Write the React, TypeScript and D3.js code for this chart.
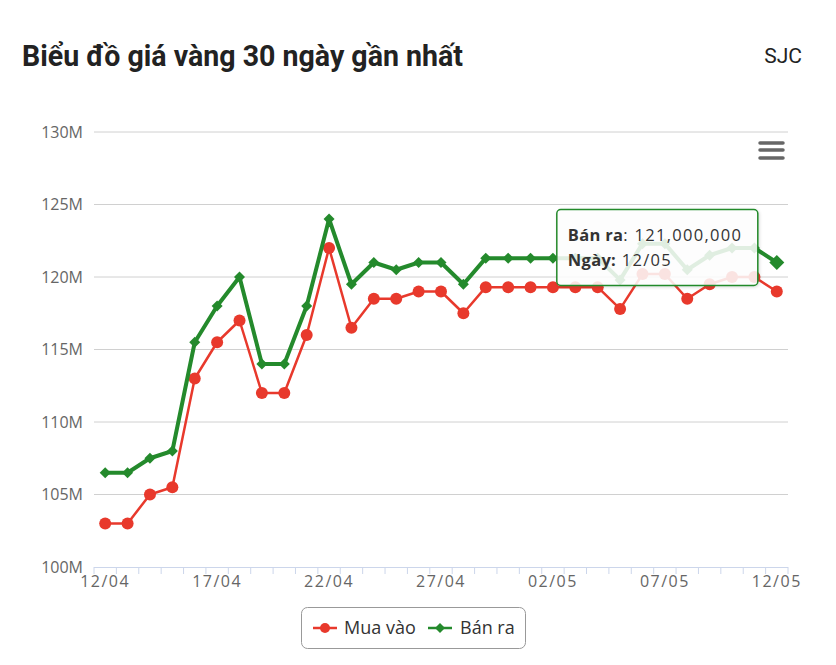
import React from 'react';
import * as d3 from 'd3';

const days = [
  '12/04', '13/04', '14/04', '15/04', '16/04', '17/04', '18/04', '19/04', '20/04', '21/04',
  '22/04', '23/04', '24/04', '25/04', '26/04', '27/04', '28/04', '29/04', '30/04', '01/05',
  '02/05', '03/05', '04/05', '05/05', '06/05', '07/05', '08/05', '09/05', '10/05', '11/05', '12/05',
];

// giá mua vào (triệu đồng)
const muaVao = [
  103, 103, 105, 105.5, 113, 115.5, 117, 112, 112, 116,
  122, 116.5, 118.5, 118.5, 119, 119, 117.5, 119.3, 119.3, 119.3,
  119.3, 119.3, 119.3, 117.8, 120.2, 120.2, 118.5, 119.5, 120, 120, 119,
];

// giá bán ra (triệu đồng)
const banRa = [
  106.5, 106.5, 107.5, 108, 115.5, 118, 120, 114, 114, 118,
  124, 119.5, 121, 120.5, 121, 121, 119.5, 121.3, 121.3, 121.3,
  121.3, 121.3, 121.3, 119.8, 122.3, 122.3, 120.5, 121.5, 122, 122, 121,
];

const yTicks = [100, 105, 110, 115, 120, 125, 130];
const xLabelEvery = 5;
const hoverIndex = 30;

const RED = '#e8392c';
const GREEN = '#248a2c';
const AXIS_FONT = '"Open Sans", sans-serif';

export default function App() {
  const left = 94;
  const right = 788;
  const top = 132;
  const bottom = 567;

  const x = d3.scaleBand<string>().domain(days).range([left, right]).padding(0);
  const cx = (d: string) => (x(d) as number) + x.bandwidth() / 2;
  const y = d3.scaleLinear().domain([100, 130]).range([bottom, top]);

  const line = d3
    .line<number>()
    .x((_, i) => cx(days[i]))
    .y((v) => y(v));

  const diamond = (px: number, py: number, r: number) =>
    `M${px},${py - r}L${px + r},${py}L${px},${py + r}L${px - r},${py}Z`;

  const boundaries = days.map((d) => x(d) as number).concat([right]);

  const hx = cx(days[hoverIndex]);
  const hy = y(banRa[hoverIndex]);
  const tipW = 201;
  const tipH = 76;
  const tipX = hx - 19 - tipW;
  const tipY = hy - 53;

  const fmt = d3.format(',');

  return (
    <div style={{ position: 'absolute', left: 0, top: 0 }}>
      <svg width={836} height={665} style={{ display: 'block', background: '#fff' }}>
        <defs>
          <filter id="tipShadow" x="-10%" y="-10%" width="130%" height="140%">
            <feDropShadow dx="1" dy="1" stdDeviation="1.5" floodColor="#000" floodOpacity="0.15" />
          </filter>
        </defs>

        {/* title */}
        <text
          x={22}
          y={66}
          fontFamily="Roboto, sans-serif"
          fontWeight={700}
          fontSize={29}
          fill="#222"
          textLength={441}
          lengthAdjust="spacingAndGlyphs"
        >
          Biểu đồ giá vàng 30 ngày gần nhất
        </text>
        <text x={802} y={63} textAnchor="end" fontFamily="Roboto, sans-serif" fontSize={21} fill="#222">
          SJC
        </text>

        {/* grid + y labels */}
        {yTicks.map((t) => (
          <g key={t}>
            {t !== 100 && (
              <line x1={left} x2={right} y1={y(t)} y2={y(t)} stroke="#d0d0d0" strokeWidth={1} />
            )}
            <text
              x={83}
              y={y(t) + 5.5}
              textAnchor="end"
              fontFamily={AXIS_FONT}
              fontSize={16}
              fill="#666"
            >
              {t}M
            </text>
          </g>
        ))}

        {/* x axis */}
        <line x1={left} x2={right} y1={bottom + 0.5} y2={bottom + 0.5} stroke="#ccd6eb" strokeWidth={1} />
        {boundaries.map((b, i) => (
          <line key={i} x1={b} x2={b} y1={bottom} y2={bottom + 7} stroke="#ccd6eb" strokeWidth={1} />
        ))}
        {days.map((d, i) =>
          i % xLabelEvery === 0 ? (
            <text
              key={d}
              x={cx(d)}
              y={bottom + 20}
              textAnchor="middle"
              fontFamily={AXIS_FONT}
              fontSize={16}
              letterSpacing={1.5}
              fill="#666"
            >
              {d}
            </text>
          ) : null
        )}

        {/* menu icon */}
        {[143, 150, 158].map((yy) => (
          <line key={yy} x1={760} x2={783} y1={yy} y2={yy} stroke="#666" strokeWidth={3.5} strokeLinecap="round" />
        ))}

        {/* Mua vào */}
        <path d={line(muaVao) || ''} fill="none" stroke={RED} strokeWidth={2.5} strokeLinejoin="round" />
        {muaVao.map((v, i) => (
          <circle key={i} cx={cx(days[i])} cy={y(v)} r={6} fill={RED} />
        ))}

        {/* Bán ra */}
        <path d={line(banRa) || ''} fill="none" stroke={GREEN} strokeWidth={4} strokeLinejoin="round" />
        {banRa.map((v, i) => (
          <path
            key={i}
            d={diamond(cx(days[i]), y(v), i === hoverIndex ? 7.5 : 5.5)}
            fill={GREEN}
          />
        ))}

        {/* tooltip */}
        <g filter="url(#tipShadow)">
          <rect
            x={tipX}
            y={tipY}
            width={tipW}
            height={tipH}
            rx={4}
            fill="#ffffff"
            fillOpacity={0.85}
            stroke={GREEN}
            strokeWidth={1.5}
          />
        </g>
        <text x={tipX + 11} y={tipY + 31} fontFamily={AXIS_FONT} fontSize={16.5} letterSpacing={1.3} fill="#333">
          <tspan fontWeight={700} letterSpacing={0.3}>Bán ra</tspan>
          <tspan>: {fmt(banRa[hoverIndex] * 1e6)}</tspan>
        </text>
        <text x={tipX + 11} y={tipY + 56} fontFamily={AXIS_FONT} fontSize={16.5} letterSpacing={1.3} fill="#333">
          <tspan fontWeight={700} letterSpacing={0.3}>Ngày:</tspan>
          <tspan> {days[hoverIndex]}</tspan>
        </text>

        {/* legend */}
        <rect x={301.5} y={607.5} width={224} height={41} rx={6} fill="#fff" stroke="#999" strokeWidth={1} />
        <line x1={313} x2={337} y1={628} y2={628} stroke={RED} strokeWidth={2.5} />
        <circle cx={325} cy={628} r={5} fill={RED} />
        <text x={344} y={634} fontFamily={AXIS_FONT} fontSize={18} fill="#333">
          Mua vào
        </text>
        <line x1={428} x2={452} y1={628} y2={628} stroke={GREEN} strokeWidth={2.5} />
        <path d={diamond(440, 628, 5)} fill={GREEN} />
        <text x={460} y={634} fontFamily={AXIS_FONT} fontSize={18} fill="#333">
          Bán ra
        </text>
      </svg>
    </div>
  );
}
